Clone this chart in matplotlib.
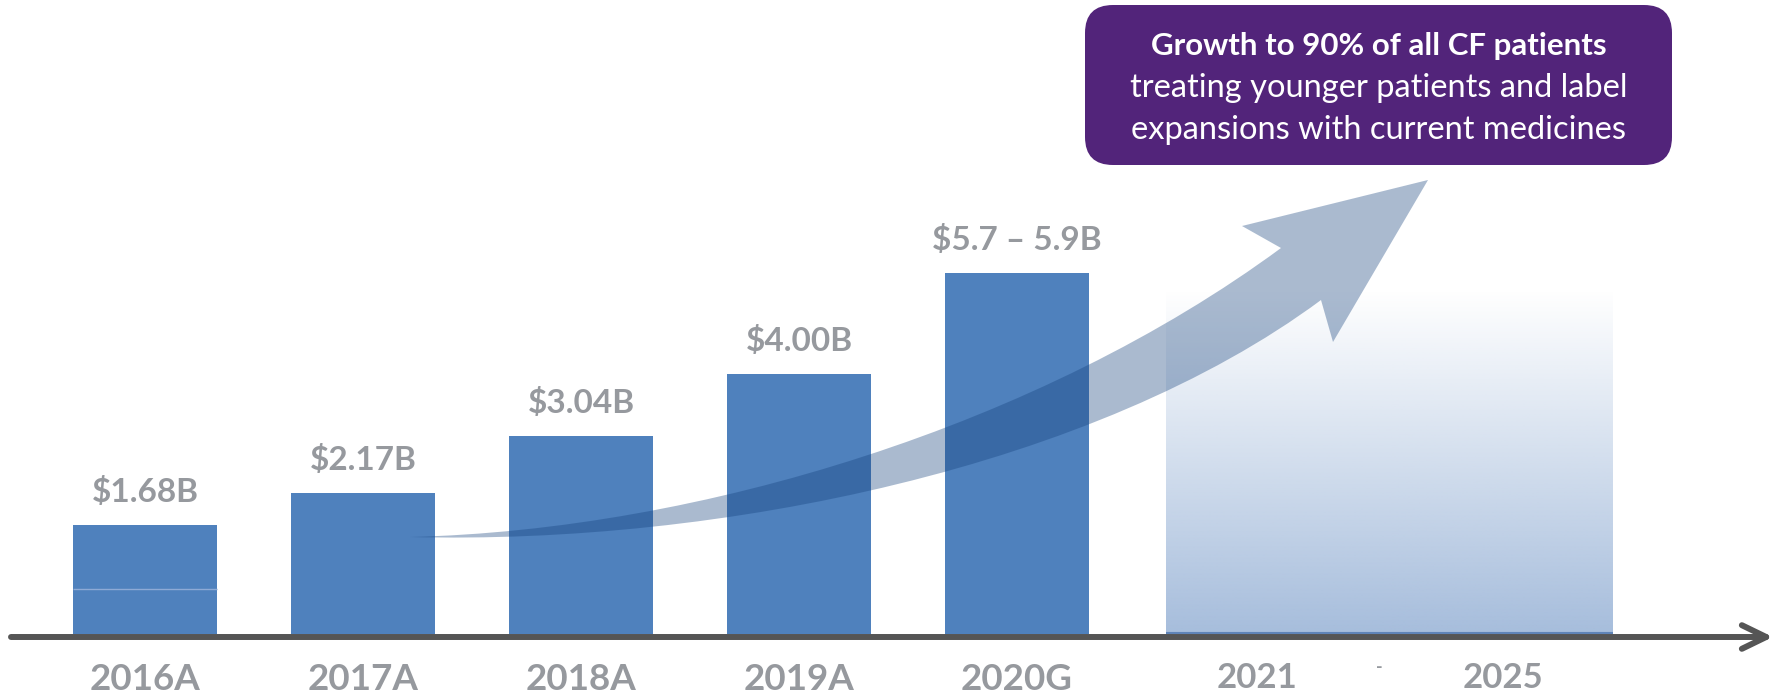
import numpy as np
import matplotlib
matplotlib.use("Agg")
import matplotlib.pyplot as plt
from matplotlib.patches import FancyBboxPatch, PathPatch
from matplotlib.path import Path

plt.rcParams['font.family'] = ['Lato', 'DejaVu Sans']

# ==========================
# Data
# ==========================
years = ["2016A", "2017A", "2018A", "2019A", "2020G"]
revenue = [1.68, 2.17, 3.04, 4.00, 5.55]   # 2020 guidance bar drawn at ~midpoint
value_labels = ["$1.68B", "$2.17B", "$3.04B", "$4.00B", "$5.7 \u2013 5.9B"]
future_labels = ["2021", "-", "2025"]
future_pos = [5.10, 5.66, 6.23]
callout_title = "Growth to 90% of all CF patients"
callout_body = ["treating younger patients and label",
                "expansions with current medicines"]

bar_color = "#4f81bd"
label_gray = "#96999e"
purple = "#52247a"

# ==========================
# Figure / axes
# ==========================
W, H = 1777, 697
fig = plt.figure(figsize=(W / 100, H / 100), dpi=100)

ax = fig.add_axes([0, 0, 1, 1])
ax.set_xlim(-145 / 218, (W - 145) / 218)
ax.set_ylim(-(H - 634) / 65, 634 / 65)
ax.axis("off")

x = np.arange(len(years))
ax.bar(x, revenue, width=0.665, color=bar_color, zorder=2)
# faint segment line inside the first bar
ax.hlines(0.69, x[0] - 0.3325, x[0] + 0.3325, color="#8eaad6", lw=1, zorder=3)

for xi, v, lab in zip(x, revenue, value_labels):
    ax.annotate(lab, (xi, v), xytext=(0, 16.5), textcoords="offset points",
                ha="center", va="baseline", fontsize=24, fontweight="bold",
                color=label_gray)

for xi, lab in zip(x, years):
    ax.text(xi, -56 / 65, lab, ha="center", va="baseline", fontsize=26.5,
            fontweight="bold", color=label_gray)

# faded 2021-2025 block
gx0, gx1, gtop = (1166 - 145) / 218, (1613 - 145) / 218, (634 - 290) / 65
grad = np.zeros((256, 1, 4))
grad[..., 0] = 166 / 255
grad[..., 1] = 189 / 255
grad[..., 2] = 220 / 255
grad[..., 3] = np.linspace(0, 1, 256)[:, None]
ax.imshow(grad, extent=[gx0, gx1, 0, gtop], aspect="auto",
          interpolation="bilinear", zorder=1)
ax.hlines(0.02, gx0, gx1, color="#5f84b8", lw=1.5, zorder=1)

for xp, lab in zip(future_pos, future_labels):
    if lab == "-":
        ax.text(xp, -34 / 65, lab, ha="center", va="center", fontsize=13,
                fontweight="bold", color=label_gray)
    else:
        ax.text(xp, -54 / 65, lab, ha="center", va="baseline", fontsize=25,
                fontweight="bold", color=label_gray)

# ==========================
# Decoration layer (pixel coords)
# ==========================
ov = fig.add_axes([0, 0, 1, 1], facecolor="none")
ov.set_xlim(0, W)
ov.set_ylim(H, 0)
ov.axis("off")

# baseline axis with arrow
ov.annotate("", xy=(1773, 637), xytext=(11, 637),
            arrowprops=dict(arrowstyle="->,head_length=1.75,head_width=0.85",
                            lw=4.3, color="#555555", shrinkA=0, shrinkB=0,
                            capstyle="round", joinstyle="round"))

# curved growth arrow
verts = [(410, 537),
         (700, 530), (1041, 425), (1281, 248),
         (1242, 226), (1428, 180), (1333, 342), (1321, 300),
         (1096, 467), (720, 545), (410, 537),
         (410, 537)]
codes = [Path.MOVETO,
         Path.CURVE4, Path.CURVE4, Path.CURVE4,
         Path.LINETO, Path.LINETO, Path.LINETO, Path.LINETO,
         Path.CURVE4, Path.CURVE4, Path.CURVE4,
         Path.CLOSEPOLY]
ov.add_patch(PathPatch(Path(verts, codes), fc=(20 / 255, 65 / 255, 124 / 255),
                       alpha=0.36, ec="none", zorder=5))

# callout box
ov.add_patch(FancyBboxPatch((1085, 5), 587, 160,
                            boxstyle="round,pad=0,rounding_size=28",
                            fc=purple, ec="none", zorder=6))
ov.text(1378.5, 55, callout_title, ha="center", va="baseline", fontsize=22.5,
        fontweight="bold", color="white", zorder=7)
ov.text(1378.5, 97, callout_body[0], ha="center", va="baseline", fontsize=23.5,
        color="white", zorder=7)
ov.text(1378.5, 139, callout_body[1], ha="center", va="baseline", fontsize=23.5,
        color="white", zorder=7)

fig.savefig("out.png", dpi=100)
